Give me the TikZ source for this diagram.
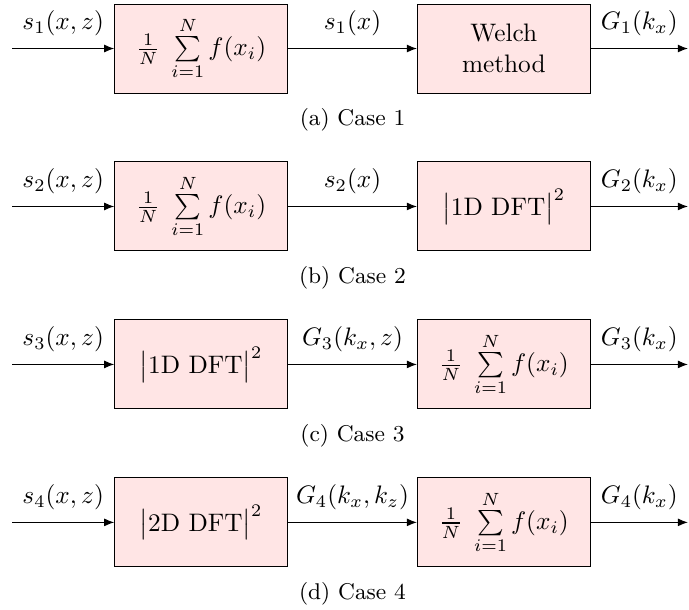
\documentclass[tikz,border=0pt]{standalone}
\usepackage{amsmath}
\usepackage{tikz}
\usetikzlibrary{arrows.meta, positioning, calc}
\definecolor{blockfill}{HTML}{FFE5E5}

\newcommand{\avgsum}{$\frac{1}{N}\;\sum\limits_{i=1}^{N} f(x_i)$}
\newcommand{\dftpow}[1]{$\bigl|\mathrm{#1\ DFT}\bigr|^2$}

\begin{document}
\begin{tikzpicture}[
        block/.style={
            draw,
            fill=blockfill,
            minimum width=2.4cm,
            minimum height=1.236cm,
            inner sep=1pt,
            align=center
        },
        signal/.style={-{Latex[length=1.4mm, width=1.1mm]}},
        sublabel/.style={font=\small}
    ]
        \useasboundingbox (0,0) rectangle (9.57,-8.47);

        % (a) Case 1
        \coordinate (in1) at (0.167,-0.674);
        \node[block, right=1.42cm of in1] (avg1) {\avgsum};
        \node[block, right=1.79cm of avg1] (welch1) {Welch\\method};
        \coordinate[right=1.35cm of welch1] (out1);
        \draw[signal] (in1) -- node[above=1.5pt] {$s_1(x,z)$} (avg1);
        \draw[signal] (avg1) -- node[above=1.5pt] {$s_1(x)$} (welch1);
        \draw[signal] (welch1) -- node[above=1.5pt] {$G_1(k_x)$} (out1);
        \node[sublabel] (cap1) at ($(avg1.east)!0.5!(welch1.west)+(0,-0.99)$) {(a) Case 1};

        % (b) Case 2
        \coordinate[below=2.194cm of in1] (in2);
        \node[block, right=1.42cm of in2] (avg2) {\avgsum};
        \node[block, right=1.79cm of avg2] (dft2) {\dftpow{1D}};
        \coordinate[right=1.35cm of dft2] (out2);
        \draw[signal] (in2) -- node[above=1.5pt] {$s_2(x,z)$} (avg2);
        \draw[signal] (avg2) -- node[above=1.5pt] {$s_2(x)$} (dft2);
        \draw[signal] (dft2) -- node[above=1.5pt] {$G_2(k_x)$} (out2);
        \node[sublabel] (cap2) at ($(avg2.east)!0.5!(dft2.west)+(0,-0.99)$) {(b) Case 2};

        % (c) Case 3
        \coordinate[below=2.194cm of in2] (in3);
        \node[block, right=1.42cm of in3] (dft3) {\dftpow{1D}};
        \node[block, right=1.79cm of dft3] (avg3) {\avgsum};
        \coordinate[right=1.35cm of avg3] (out3);
        \draw[signal] (in3) -- node[above=1.5pt] {$s_3(x,z)$} (dft3);
        \draw[signal] (dft3) -- node[above=1.5pt] {$G_3(k_x,z)$} (avg3);
        \draw[signal] (avg3) -- node[above=1.5pt] {$G_3(k_x)$} (out3);
        \node[sublabel] (cap3) at ($(dft3.east)!0.5!(avg3.west)+(0,-0.99)$) {(c) Case 3};

        % (d) Case 4
        \coordinate[below=2.194cm of in3] (in4);
        \node[block, right=1.42cm of in4] (dft4) {\dftpow{2D}};
        \node[block, right=1.79cm of dft4] (avg4) {\avgsum};
        \coordinate[right=1.35cm of avg4] (out4);
        \draw[signal] (in4) -- node[above=1.5pt] {$s_4(x,z)$} (dft4);
        \draw[signal] (dft4) -- node[above=1.5pt] {$G_4(k_x,k_z)$} (avg4);
        \draw[signal] (avg4) -- node[above=1.5pt] {$G_4(k_x)$} (out4);
        \node[sublabel] (cap4) at ($(dft4.east)!0.5!(avg4.west)+(0,-0.99)$) {(d) Case 4};
    \end{tikzpicture}
\end{document}
